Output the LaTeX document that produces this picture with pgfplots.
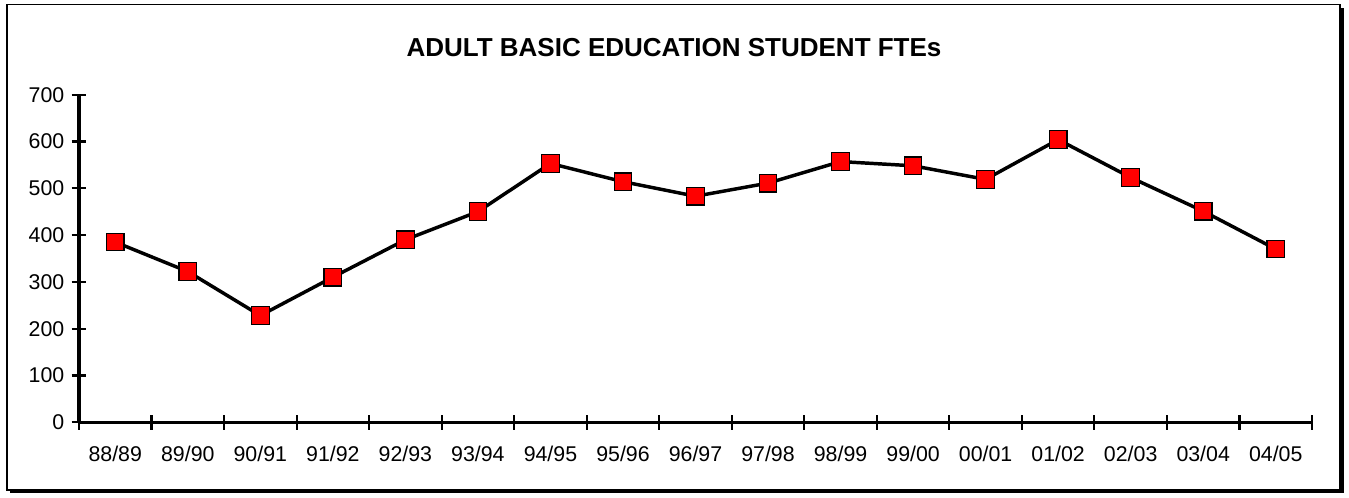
\documentclass[border=0pt]{standalone}
\usepackage{fontspec}
\setmainfont{Liberation Sans}
\usepackage{pgfplots}
\pgfplotsset{compat=1.18}
\begin{document}
\begin{tikzpicture}
\useasboundingbox (-59.25pt,-56.78pt) rectangle (952.5pt,316.7pt);
\fill[black] (-51.75pt,-53.05pt) rectangle (948.75pt,310.75pt);
\filldraw[fill=white,draw=black,line width=0.8pt] (-54pt,-50.8pt) rectangle (945.75pt,313pt);
\node[font=\bfseries\fontsize{19.5}{23}\selectfont] at (446.25pt,281pt) {ADULT BASIC EDUCATION STUDENT FTEs};
\begin{axis}[
  at={(0pt,0pt)}, anchor=south west,
  scale only axis, width=924.75pt, height=245.7pt,
  xmin=-0.5, xmax=16.5, ymin=0, ymax=700,
  axis x line*=bottom, axis y line*=left,
  axis line style={line width=2.4pt,-},
  ytick={0,100,...,700},
  xtick={-0.5,0.5,...,16.5}, xticklabels={},
  extra x ticks={0,...,16},
  extra x tick labels={88/89,89/90,90/91,91/92,92/93,93/94,94/95,95/96,96/97,97/98,98/99,99/00,00/01,01/02,02/03,03/04,04/05},
  extra x tick style={major tick length=0pt},
  tick align=center, major tick length=11pt,
  tick style={line width=1.6pt,black},
  /pgf/number format/assume math mode=true,
  tick label style={font=\fontsize{16}{19}\selectfont},
  xticklabel style={yshift=-14pt},
  yticklabel style={xshift=-2pt},
  clip=false,
]
\addplot[black, line width=2.6pt, mark=square*, mark size=6.6pt,
  mark options={fill=red, draw=black, line width=0.9pt}]
coordinates {
(0,385) (1,322) (2,228) (3,310) (4,390) (5,450) (6,553) (7,514) (8,483)
(9,511) (10,557) (11,548) (12,519) (13,604) (14,523) (15,451) (16,370)
};
\end{axis}
\end{tikzpicture}
\end{document}
